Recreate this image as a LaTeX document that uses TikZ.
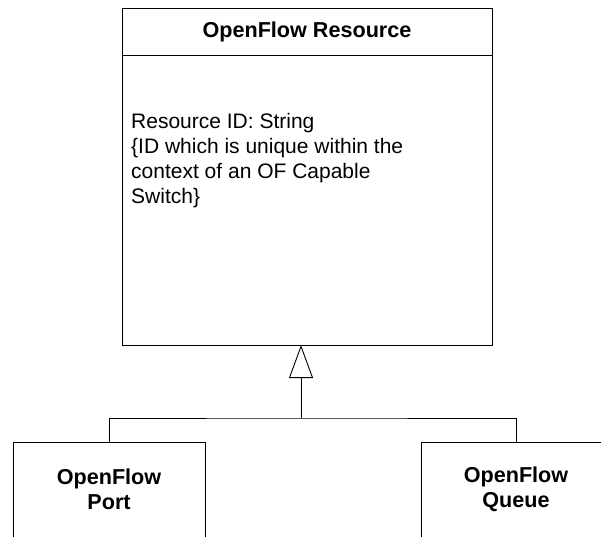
\documentclass[tikz,border=0pt]{standalone}
\usepackage{fontspec}
\setmainfont{Liberation Sans}
\usepackage{tikz}
\usetikzlibrary{arrows.meta,positioning}

\tikzset{
	classbox/.style={draw, line width=0.9pt, rectangle, outer sep=0pt, inner sep=0pt},
	classtext/.style={font=\fontsize{21}{25}\selectfont},
	classname/.style={font=\bfseries\fontsize{21.6}{25}\selectfont, align=center},
	inherit/.style={line width=0.9pt, -{Triangle[open, length=33pt, width=24pt]}}
}

\begin{document}
\begin{tikzpicture}[x=1pt, y=1pt]
	\useasboundingbox (0,0) rectangle (601,536);
	\clip (0,0) rectangle (601,536);

	%Superclass
	\node[classbox, classname, minimum width=370pt, minimum height=47pt] (res) at (307,504.5) {OpenFlow Resource};
	\node[classbox, minimum width=370pt, minimum height=290pt, below=0pt of res] (resbody) {};
	\node[classtext, align=left, anchor=north west, inner sep=0pt] (resattr) at (131,423) {Resource ID: String\\{\{}ID which is unique within the\\context of an OF Capable\\Switch{\}}};

	%Subclasses
	\node[classbox, minimum width=192pt, minimum height=120pt, anchor=north] (port) at (109,94) {};
	\node[classname] (porttxt) at (109,47) {OpenFlow\\Port};
	\node[classbox, minimum width=190pt, minimum height=120pt, anchor=north] (queue) at (516,94) {};
	\node[classname] (queuetxt) at (516,47) {OpenFlow\\Queue};

	%Generalization
	\coordinate (junc) at (301,118);
	\draw[line width=0.9pt] (port.north) |- (junc) -| (queue.north);
	\draw[inherit] (junc) -- (junc |- resbody.south);

\end{tikzpicture}
\end{document}
